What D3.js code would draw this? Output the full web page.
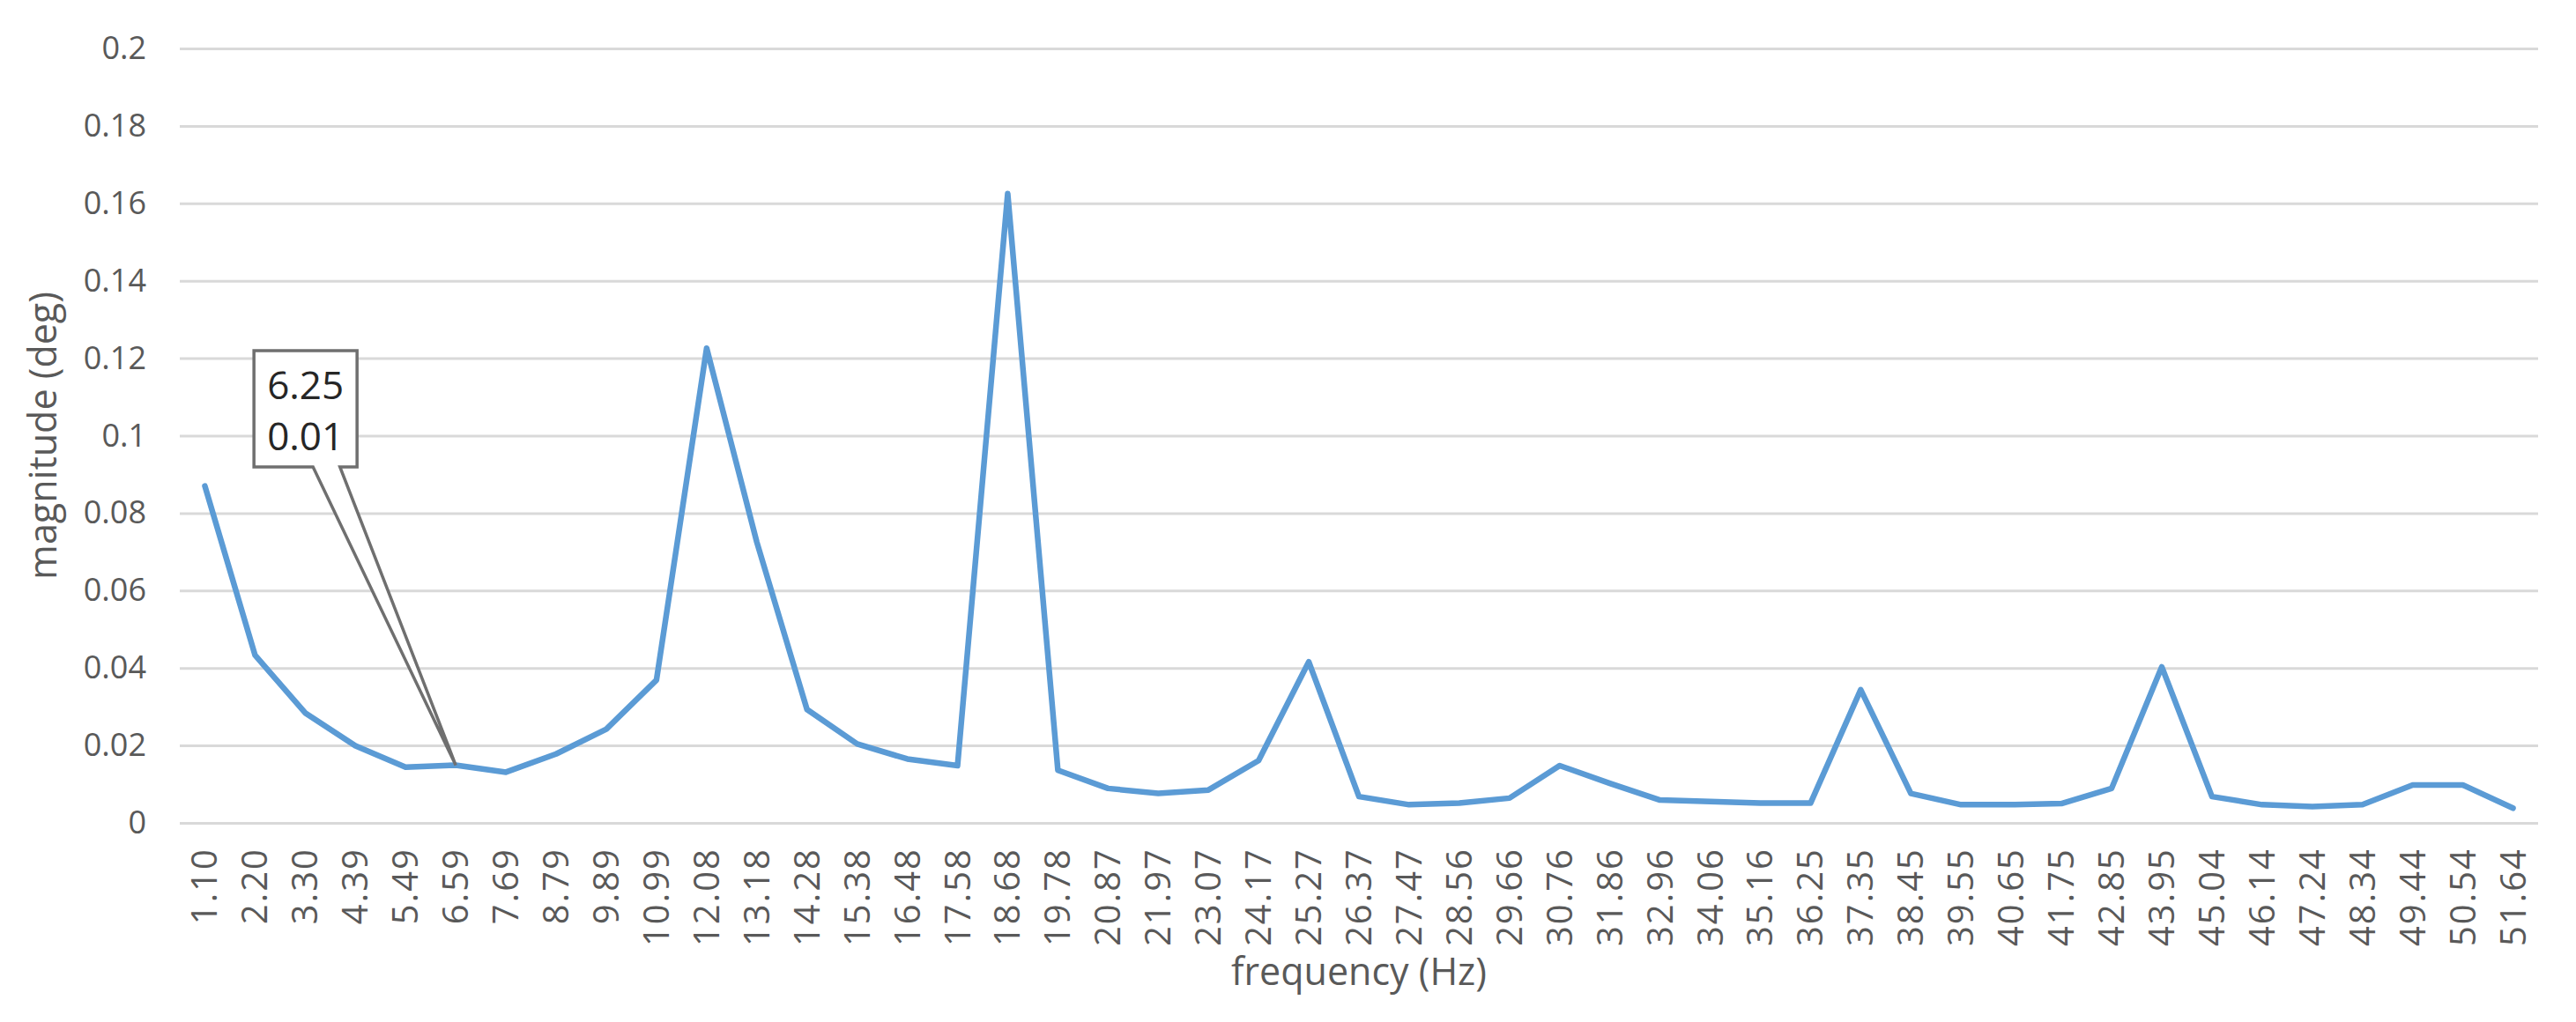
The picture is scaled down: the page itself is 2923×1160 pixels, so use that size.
<!DOCTYPE html>
<html>
<head>
<meta charset="utf-8">
<script src="https://cdn.jsdelivr.net/npm/d3@7"></script>
<style>
  html, body { margin: 0; padding: 0; background: #ffffff; }
  svg { display: block; }
</style>
</head>
<body>
<svg id="chart" width="2923" height="1160"></svg>
<script>
// ---- data ----
const categories = ["1.10","2.20","3.30","4.39","5.49","6.59","7.69","8.79","9.89","10.99",
  "12.08","13.18","14.28","15.38","16.48","17.58","18.68","19.78","20.87","21.97",
  "23.07","24.17","25.27","26.37","27.47","28.56","29.66","30.76","31.86","32.96",
  "34.06","35.16","36.25","37.35","38.45","39.55","40.65","41.75","42.85","43.95",
  "45.04","46.14","47.24","48.34","49.44","50.54","51.64"];
const magnitude = [0.087,0.0433,0.0284,0.0199,0.0144,0.0149,0.0131,0.0178,0.0242,0.0369,
  0.1226,0.0725,0.0293,0.0204,0.0165,0.0148,0.1625,0.0136,0.0089,0.0076,
  0.0085,0.0161,0.0416,0.0068,0.0047,0.0051,0.0064,0.0148,0.0102,0.0059,
  0.0055,0.0051,0.0051,0.0344,0.0076,0.0047,0.0047,0.005,0.0089,0.0403,
  0.0068,0.0047,0.0042,0.0047,0.0098,0.0098,0.0038];
const yTicks = [0,0.02,0.04,0.06,0.08,0.1,0.12,0.14,0.16,0.18,0.2];
const yTickLabels = ["0","0.02","0.04","0.06","0.08","0.1","0.12","0.14","0.16","0.18","0.2"];
const xTitle = "frequency (Hz)";
const yTitle = "magnitude (deg)";
const calloutCategory = "6.59";
const calloutLines = ["6.25","0.01"];

// ---- layout ----
const pL = 204, pR = 2880, pT = 55, pB = 934;
const FONT = "'Open Sans', 'Noto Sans', sans-serif";
const svg = d3.select("#chart");

const x = d3.scaleBand().domain(categories).range([pL, pR]).padding(0);
const y = d3.scaleLinear().domain([0, 0.2]).range([pB, pT]);

// y axis with gridlines
const yAxis = d3.axisLeft(y)
  .tickValues(yTicks)
  .tickFormat((d, i) => yTickLabels[i])
  .tickSize(-(pR - pL))
  .tickPadding(38);
const gy = svg.append("g").attr("transform", `translate(${pL},0)`).call(yAxis);
gy.select(".domain").remove();
gy.selectAll(".tick line").attr("stroke", "#d9d9d9").attr("stroke-width", 3);
gy.selectAll(".tick text")
  .attr("fill", "#595959")
  .style("font-family", FONT)
  .style("font-size", "36px");

// x axis labels rotated
const xAxis = d3.axisBottom(x).tickSize(0).tickPadding(0);
const gx = svg.append("g").attr("transform", `translate(0,${pB})`).call(xAxis);
gx.select(".domain").remove();
gx.selectAll(".tick text")
  .attr("fill", "#595959")
  .style("font-family", FONT)
  .style("font-size", "40px")
  .style("letter-spacing", "2px")
  .attr("text-anchor", "end")
  .attr("y", 0)
  .attr("dy", "0.35em")
  .attr("transform", "translate(0,28) rotate(-90)");

// line
const line = d3.line()
  .x((d, i) => x(categories[i]) + x.bandwidth() / 2)
  .y(d => y(d));
svg.append("path")
  .datum(magnitude)
  .attr("fill", "none")
  .attr("stroke", "#5b9bd5")
  .attr("stroke-width", 6.5)
  .attr("stroke-linejoin", "round")
  .attr("stroke-linecap", "round")
  .attr("d", line);

// callout
const ci = categories.indexOf(calloutCategory);
const tipX = x(calloutCategory) + x.bandwidth() / 2;
const tipY = y(magnitude[ci]);
const bx0 = tipX - 229, bx1 = tipX - 112, by0 = 398, by1 = 530;
const w0 = bx0 + (bx1 - bx0) * 0.573, w1 = bx0 + (bx1 - bx0) * 0.834;
const cpath = `M${bx0},${by0} L${bx1},${by0} L${bx1},${by1} L${w1},${by1} L${tipX},${tipY} L${w0},${by1} L${bx0},${by1} Z`;
svg.append("path")
  .attr("d", cpath)
  .attr("fill", "#ffffff")
  .attr("stroke", "#6f6f6f")
  .attr("stroke-width", 3.5)
  .attr("stroke-linejoin", "miter");
const ct = svg.append("text")
  .attr("text-anchor", "middle")
  .attr("fill", "#262626")
  .style("font-family", FONT)
  .style("font-size", "44px");
calloutLines.forEach((t, i) => {
  ct.append("tspan").attr("x", (bx0 + bx1) / 2).attr("y", 453 + i * 58).text(t);
});

// axis titles
svg.append("text")
  .attr("x", (pL + pR) / 2)
  .attr("y", 1118)
  .attr("text-anchor", "middle")
  .attr("fill", "#595959")
  .style("font-family", FONT)
  .style("font-size", "43px")
  .text(xTitle);
svg.append("text")
  .attr("transform", `translate(64,${(pT + pB) / 2}) rotate(-90)`)
  .attr("text-anchor", "middle")
  .attr("fill", "#595959")
  .style("font-family", FONT)
  .style("font-size", "43px")
  .text(yTitle);
</script>
</body>
</html>
